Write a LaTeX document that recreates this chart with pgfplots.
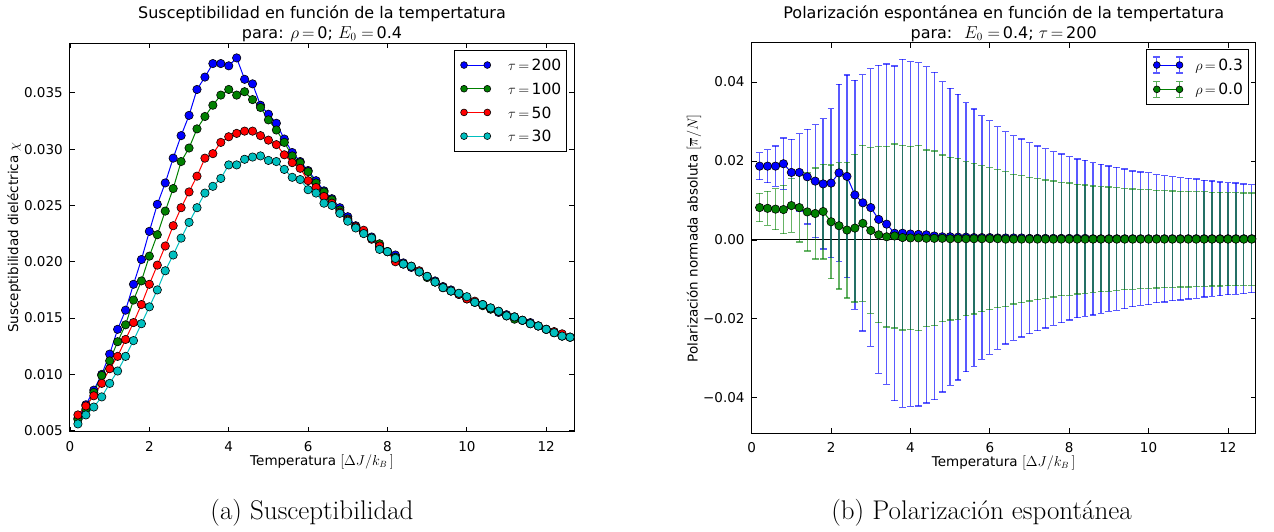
\documentclass[border=0pt]{standalone}
\usepackage{fontspec}
\usepackage{pgfplots}
\pgfplotsset{compat=1.18}
\usepackage{pgfplotstable}
\newfontfamily\dejavu{DejaVu Sans}
\definecolor{mplblue}{rgb}{0,0,1}
\definecolor{mplgreen}{rgb}{0,0.5,0}
\definecolor{mplred}{rgb}{1,0,0}
\definecolor{mplcyan}{rgb}{0,0.75,0.75}
\newcommand{\tickfont}{\dejavu\fontsize{13.5}{16}\selectfont}
\newcommand{\legfont}{\dejavu\fontsize{15.5}{19}\selectfont}
\newcommand{\titlefont}{\dejavu\fontsize{16}{20}\selectfont}
\newcommand{\eq}{\,{=}\,}

\pgfplotstableread{
x b g r c
0.2 0.0061 0.0060 0.0064 0.0056
0.4 0.0073 0.0069 0.0072 0.0064
0.6 0.0086 0.0084 0.0081 0.0071
0.8 0.0100 0.0099 0.0092 0.0080
1.0 0.0118 0.0112 0.0105 0.0092
1.2 0.0140 0.0129 0.0116 0.0103
1.4 0.0157 0.0144 0.0131 0.0116
1.6 0.0180 0.0166 0.0146 0.0130
1.8 0.0202 0.0183 0.0162 0.0145
2.0 0.0227 0.0205 0.0180 0.0160
2.2 0.0251 0.0224 0.0197 0.0175
2.4 0.0270 0.0245 0.0214 0.0192
2.6 0.0292 0.0265 0.0232 0.0206
2.8 0.0312 0.0289 0.0248 0.0221
3.0 0.0330 0.0301 0.0262 0.0235
3.2 0.0353 0.0318 0.0276 0.0248
3.4 0.0364 0.0329 0.0292 0.0261
3.6 0.0376 0.0339 0.0296 0.0267
3.8 0.0376 0.0348 0.0306 0.0274
4.0 0.0374 0.0353 0.0311 0.0286
4.2 0.0381 0.0348 0.0314 0.0286
4.4 0.0362 0.0351 0.0316 0.0291
4.6 0.0358 0.0344 0.0316 0.0293
4.8 0.0339 0.0337 0.0312 0.0294
5.0 0.0331 0.0326 0.0308 0.0290
5.2 0.0323 0.0317 0.0304 0.0289
5.4 0.0309 0.0306 0.0295 0.0282
5.6 0.0297 0.0294 0.0288 0.0275
5.8 0.0289 0.0288 0.0283 0.0273
6.0 0.0281 0.0280 0.0272 0.0264
6.2 0.0272 0.0270 0.0266 0.0261
6.4 0.0263 0.0262 0.0258 0.0252
6.6 0.0256 0.0255 0.0252 0.0250
6.8 0.0248 0.0246 0.0244 0.0243
7.0 0.0240 0.0238 0.0237 0.0236
7.2 0.0232 0.0231 0.0231 0.0230
7.4 0.0227 0.0226 0.0228 0.0225
7.6 0.0222 0.0221 0.0220 0.0221
7.8 0.0213 0.0216 0.0214 0.0211
8.0 0.0209 0.0209 0.0209 0.0209
8.2 0.0206 0.0204 0.0200 0.0203
8.4 0.0199 0.0198 0.0198 0.0198
8.6 0.0195 0.0196 0.0196 0.0196
8.8 0.0191 0.0191 0.0192 0.0191
9.0 0.0187 0.0186 0.0187 0.0187
9.2 0.0183 0.0182 0.0182 0.0182
9.4 0.0178 0.0177 0.0177 0.0177
9.6 0.0175 0.0174 0.0174 0.0174
9.8 0.0171 0.0172 0.0171 0.0172
10.0 0.0168 0.0167 0.0167 0.0169
10.2 0.0164 0.0164 0.0165 0.0164
10.4 0.0162 0.0161 0.0162 0.0162
10.6 0.0158 0.0158 0.0159 0.0159
10.8 0.0155 0.0156 0.0156 0.0156
11.0 0.0153 0.0152 0.0152 0.0152
11.2 0.0151 0.0149 0.0151 0.0151
11.4 0.0148 0.0148 0.0148 0.0148
11.6 0.0146 0.0145 0.0145 0.0145
11.8 0.0143 0.0143 0.0143 0.0143
12.0 0.0140 0.0140 0.0140 0.0140
12.2 0.0137 0.0137 0.0138 0.0137
12.4 0.0134 0.0134 0.0136 0.0134
12.6 0.0133 0.0133 0.0133 0.0133
}\suscdata

\pgfplotstableread{
x y e
0.2 0.0187 0.0034
0.4 0.0187 0.0042
0.6 0.0187 0.0051
0.8 0.0193 0.0065
1.0 0.0171 0.0084
1.2 0.0171 0.0098
1.4 0.0160 0.0120
1.6 0.0149 0.0143
1.8 0.0142 0.0165
2.0 0.0144 0.0189
2.2 0.0170 0.0224
2.4 0.0161 0.0257
2.6 0.0114 0.0290
2.8 0.0094 0.0325
3.0 0.0082 0.0352
3.2 0.0052 0.0390
3.4 0.0040 0.0406
3.6 0.0017 0.0424
3.8 0.0017 0.0441
4.0 0.0015 0.0437
4.2 0.0014 0.0435
4.4 0.0013 0.0426
4.6 0.0010 0.0415
4.8 0.0008 0.0393
5.0 0.0008 0.0376
5.2 0.0007 0.0362
5.4 0.0007 0.0341
5.6 0.0006 0.0326
5.8 0.0006 0.0309
6.0 0.0006 0.0296
6.2 0.0005 0.0282
6.4 0.0005 0.0269
6.6 0.0005 0.0259
6.8 0.0005 0.0251
7.0 0.0004 0.0242
7.2 0.0004 0.0234
7.4 0.0004 0.0227
7.6 0.0004 0.0220
7.8 0.0004 0.0214
8.0 0.0004 0.0207
8.2 0.0004 0.0201
8.4 0.0004 0.0198
8.6 0.0003 0.0193
8.8 0.0003 0.0189
9.0 0.0003 0.0184
9.2 0.0003 0.0181
9.4 0.0003 0.0177
9.6 0.0003 0.0172
9.8 0.0003 0.0169
10.0 0.0003 0.0167
10.2 0.0003 0.0162
10.4 0.0003 0.0160
10.6 0.0003 0.0157
10.8 0.0003 0.0155
11.0 0.0003 0.0153
11.2 0.0003 0.0151
11.4 0.0003 0.0148
11.6 0.0003 0.0146
11.8 0.0003 0.0144
12.0 0.0003 0.0142
12.2 0.0003 0.0141
12.4 0.0003 0.0139
12.6 0.0003 0.0137
}\polA

\pgfplotstableread{
x y e
0.2 0.0082 0.0036
0.4 0.0080 0.0043
0.6 0.0078 0.0052
0.8 0.0077 0.0061
1.0 0.0087 0.0068
1.2 0.0082 0.0087
1.4 0.0071 0.0099
1.6 0.0067 0.0115
1.8 0.0072 0.0120
2.0 0.0046 0.0144
2.2 0.0036 0.0160
2.4 0.0025 0.0172
2.6 0.0030 0.0187
2.8 0.0042 0.0198
3.0 0.0024 0.0210
3.2 0.0013 0.0223
3.4 0.0008 0.0229
3.6 0.0010 0.0233
3.8 0.0006 0.0234
4.0 0.0005 0.0232
4.2 0.0005 0.0235
4.4 0.0004 0.0224
4.6 0.0004 0.0221
4.8 0.0004 0.0211
5.0 0.0003 0.0206
5.2 0.0003 0.0204
5.4 0.0003 0.0195
5.6 0.0003 0.0191
5.8 0.0003 0.0185
6.0 0.0003 0.0180
6.2 0.0003 0.0175
6.4 0.0002 0.0171
6.6 0.0002 0.0164
6.8 0.0002 0.0161
7.0 0.0002 0.0157
7.2 0.0002 0.0153
7.4 0.0002 0.0150
7.6 0.0002 0.0147
7.8 0.0002 0.0143
8.0 0.0002 0.0142
8.2 0.0002 0.0139
8.4 0.0002 0.0137
8.6 0.0002 0.0135
8.8 0.0002 0.0133
9.0 0.0002 0.0132
9.2 0.0002 0.0130
9.4 0.0002 0.0128
9.6 0.0002 0.0127
9.8 0.0002 0.0125
10.0 0.0002 0.0125
10.2 0.0002 0.0124
10.4 0.0002 0.0123
10.6 0.0002 0.0122
10.8 0.0002 0.0121
11.0 0.0002 0.0121
11.2 0.0002 0.0120
11.4 0.0002 0.0120
11.6 0.0002 0.0119
11.8 0.0002 0.0119
12.0 0.0002 0.0118
12.2 0.0002 0.0118
12.4 0.0002 0.0117
12.6 0.0002 0.0117
}\polB

\pgfplotsset{mplaxis/.style={
  scale only axis, anchor=south west, width=504pt,
  xmin=0, xmax=12.7, xtick={0,2,4,6,8,10,12}, xticklabels={0,2,4,6,8,10,12},
  tick align=inside, major tick length=5pt,
  axis line style={line width=1pt},
  tick style={black, line width=0.8pt},
  tick label style={font=\tickfont}, label style={font=\tickfont},
  xticklabel style={yshift=-6pt}, yticklabel style={xshift=-3.7pt},
  title style={font=\titlefont, align=center, yshift=-8pt},
  xlabel style={at={(axis description cs:0.5,0)}, anchor=north, yshift=-19pt},
  legend cell align=left,
  scaled y ticks=false,
  legend style={at={(axis description cs:1,1)}, anchor=north east, xshift=-7.3pt, yshift=-6.5pt,
    draw=black, line width=0.8pt, font=\legfont, inner sep=3pt},
}}
\tikzset{smark/.style={mark=*, mark size=4.2pt, mark options={solid, fill=#1, draw=black, line width=0.6pt}}}

\begin{document}
\begin{tikzpicture}
\path[use as bounding box] (0,0) rectangle (1274pt,532pt);

\begin{axis}[mplaxis, at={(70pt,100.3pt)}, height=388.4pt,
  ymin=0.00491, ymax=0.0394,
  ytick={0.005,0.010,0.015,0.020,0.025,0.030,0.035},
  yticklabels={0.005,0.010,0.015,0.020,0.025,0.030,0.035},
  title={Susceptibilidad en función de la tempertatura\\para: $\rho\eq$0; $E_0\;{=}\,$0.4},
  xlabel={Temperatura $[\Delta J/k_B\,]$},
  ylabel={Susceptibilidad dieléctrica $\chi$},
  ylabel style={at={(axis description cs:-0.111,0.5)}, anchor=center},
  legend style={nodes={text height=15.5pt, text depth=4.2pt}},
  legend image code/.code={\draw[mark repeat=1,#1,mark size=3.4pt] plot coordinates {(0pt,0pt) (23.3pt,0pt)}; \path (-6pt,0pt) (41.7pt,0pt);},
]
\addplot[mplblue, line width=1pt, smark=mplblue] table[x=x,y=b]{\suscdata};
\addlegendentry{$\tau\eq$200}
\addplot[mplgreen, line width=1pt, smark=mplgreen] table[x=x,y=g]{\suscdata};
\addlegendentry{$\tau\eq$100}
\addplot[mplred, line width=1pt, smark=mplred] table[x=x,y=r]{\suscdata};
\addlegendentry{$\tau\eq$50}
\addplot[mplcyan, line width=1pt, smark=mplcyan] table[x=x,y=c]{\suscdata};
\addlegendentry{$\tau\eq$30}
\end{axis}

\begin{axis}[mplaxis, at={(751.7pt,98.7pt)}, height=390.3pt,
  ymin=-0.049, ymax=0.0499,
  ytick={-0.04,-0.02,0,0.02,0.04},
  yticklabels={−0.04,−0.02,0.00,0.02,0.04},
  title={Polarización espontánea en función de la tempertatura\\para: \ $E_0\;{=}\,$0.4; $\tau\eq$200},
  xlabel={Temperatura $[\Delta J/k_B\,]$},
  ylabel={Polarización normada absoluta $[\overline{\pi}/N]$},
  ylabel style={at={(axis description cs:-0.1145,0.5)}, anchor=center},
  legend style={nodes={text height=15.8pt, text depth=4.5pt}},
  legend image code/.code={%
    \draw[#1, draw opacity=0.65, line width=1.3pt]
      (0pt,-8pt)--(0pt,8pt) (-3.4pt,-8pt)--(3.4pt,-8pt) (-3.4pt,8pt)--(3.4pt,8pt)
      (22.7pt,-8pt)--(22.7pt,8pt) (19.3pt,-8pt)--(26.1pt,-8pt) (19.3pt,8pt)--(26.1pt,8pt);
    \draw[mark repeat=1,#1,mark size=3.4pt] plot coordinates {(0pt,0pt) (22.7pt,0pt)};
    \path (-7pt,0pt) (36pt,0pt);},
]
\addplot[black, line width=1pt, forget plot] coordinates {(0,0) (12.7,0)};
\addplot[mplblue, line width=1pt, smark=mplblue,
  error bars/.cd, y dir=both, y explicit, error mark=-,
  error bar style={line width=1.3pt, draw=mplblue, draw opacity=0.65},
  error mark options={rotate=90, mark size=3.4pt, line width=1.3pt, draw=mplblue, draw opacity=0.65},
  ] table[x=x, y=y, y error=e]{\polA};
\addlegendentry{$\rho\eq$0.3}
\addplot[mplgreen, line width=1pt, smark=mplgreen,
  error bars/.cd, y dir=both, y explicit, error mark=-,
  error bar style={line width=1.3pt, draw=mplgreen, draw opacity=0.6},
  error mark options={rotate=90, mark size=3.4pt, line width=1.3pt, draw=mplgreen, draw opacity=0.6},
  ] table[x=x, y=y, y error=e]{\polB};
\addlegendentry{$\rho\eq$0.0}
\end{axis}

\node[font=\fontsize{27}{32}\selectfont, anchor=base] at (312pt,12pt) {(a) Susceptibilidad};
\node[font=\fontsize{27}{32}\selectfont, anchor=base] at (981.5pt,12pt) {(b) Polarización espontánea};
\end{tikzpicture}
\end{document}
